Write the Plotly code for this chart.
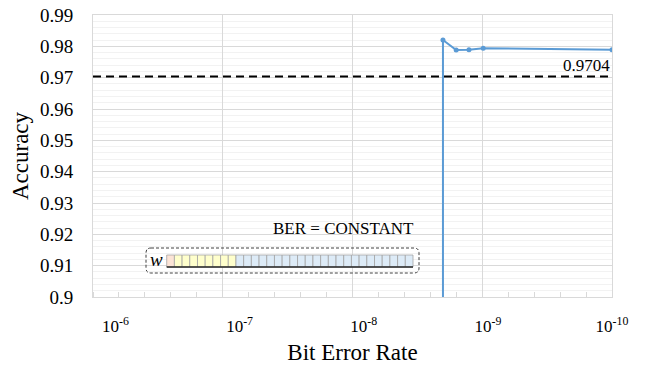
import plotly.graph_objects as go

# ---- data ----
ber = [2.3e-9, 2.3e-9, 1.8e-9, 1.42e-9, 1.09e-9, 1.0e-10]
accuracy = [0.10, 0.982, 0.9788, 0.9789, 0.9794, 0.9789]
baseline = 0.9704
x_tick_vals = [1e-6, 1e-7, 1e-8, 1e-9, 1e-10]
x_tick_text = ["10<sup>-6</sup>", "10<sup>-7</sup>", "10<sup>-8</sup>", "10<sup>-9</sup>", "10<sup>-10</sup>"]
y_tick_vals = [0.90, 0.91, 0.92, 0.93, 0.94, 0.95, 0.96, 0.97, 0.98, 0.99]
y_tick_text = [f"{v:g}" for v in y_tick_vals]
bit_fields = ["sign"] * 1 + ["exp"] * 8 + ["man"] * 23

FONT = "Liberation Serif, Times New Roman, serif"
W, H = 649, 369
L, R, T, B = 93, 612, 15, 297  # plot area in px

fig = go.Figure()
fig.add_trace(go.Scatter(
    x=ber, y=accuracy, mode="lines+markers",
    line=dict(color="#5b9bd5", width=2),
    marker=dict(color="#5b9bd5", size=5),
    showlegend=False, hoverinfo="skip",
))
# empty trace to carry the gridline axis
fig.add_trace(go.Scatter(x=[], y=[], xaxis="x2", showlegend=False))

fig.update_layout(
    width=W, height=H,
    margin=dict(l=L, r=W - R, t=T, b=H - B, autoexpand=False),
    paper_bgcolor="white", plot_bgcolor="white",
    font=dict(family=FONT, color="black"),
    xaxis=dict(
        type="log", range=[-5.819, -10.0], automargin=False,
        tickmode="array", tickvals=x_tick_vals, ticktext=x_tick_text,
        showgrid=False, zeroline=False, ticks="",
        tickfont=dict(size=17, family=FONT, color="black"),
        ticklabelstandoff=14,
        showline=True, linecolor="#d9d9d9", linewidth=1, mirror=True,
        title=dict(text="Bit Error Rate", font=dict(size=23, family=FONT, color="black"), standoff=8),
    ),
    xaxis2=dict(
        overlaying="x", range=[0, 4], tickmode="array", tickvals=[0, 1, 2, 3, 4], automargin=False,
        showgrid=True, gridcolor="#d9d9d9", gridwidth=1,
        showticklabels=False, ticks="", zeroline=False,
        minor=dict(dtick=0.2, ticks="inside", ticklen=5, tickcolor="#d9d9d9", showgrid=False),
        side="bottom",
    ),
    yaxis=dict(
        range=[0.9, 0.99], tickmode="array", tickvals=y_tick_vals, ticktext=y_tick_text, automargin=False,
        showgrid=True, gridcolor="#d9d9d9", gridwidth=1, zeroline=False, ticks="",
        minor=dict(dtick=0.002, showgrid=True, gridcolor="#f2f2f2", gridwidth=1),
        tickfont=dict(size=19, family=FONT, color="black"),
        ticklabelstandoff=15,
        showline=True, linecolor="#d9d9d9", linewidth=1, mirror=True,
        title=dict(text="Accuracy", font=dict(size=23, family=FONT, color="black"), standoff=4),
    ),
)

# baseline
fig.add_shape(type="line", xref="paper", yref="y", x0=0, x1=1, y0=baseline, y1=baseline,
              line=dict(color="black", width=2, dash="8px,5px"))
fig.add_annotation(xref="paper", yref="y", x=1, y=baseline, text=f"{baseline:.4f}",
                   xanchor="right", yanchor="bottom", showarrow=False,
                   font=dict(size=17, family=FONT, color="black"), yshift=-1)

# ---- inset (float32 bit layout) ----
def px(x):
    return (x - L) / (R - L)

def py(y):
    return (B - y) / (B - T)

bx0, bx1, by0, by1, rr = 146, 419, 248, 273, 5
path = (f"M {px(bx0+rr)},{py(by0)} L {px(bx1-rr)},{py(by0)} Q {px(bx1)},{py(by0)} {px(bx1)},{py(by0+rr)} "
        f"L {px(bx1)},{py(by1-rr)} Q {px(bx1)},{py(by1)} {px(bx1-rr)},{py(by1)} "
        f"L {px(bx0+rr)},{py(by1)} Q {px(bx0)},{py(by1)} {px(bx0)},{py(by1-rr)} "
        f"L {px(bx0)},{py(by0+rr)} Q {px(bx0)},{py(by0)} {px(bx0+rr)},{py(by0)} Z")
fig.add_shape(type="path", xref="paper", yref="paper", path=path,
              line=dict(color="#404040", width=1, dash="3px,2px"), fillcolor="rgba(255,255,255,0)")

colors = {"sign": "#fce4d6", "exp": "#ffffcc", "man": "#ddebf7"}
cx0, cx1, cy0, cy1 = 166.7, 413, 255, 267
cw = (cx1 - cx0) / len(bit_fields)
for i, f in enumerate(bit_fields):
    fig.add_shape(type="rect", xref="paper", yref="paper",
                  x0=px(cx0 + i * cw), x1=px(cx0 + (i + 1) * cw), y0=py(cy1), y1=py(cy0),
                  fillcolor=colors[f], line=dict(color="#a0a0a0", width=0.75))
fig.add_shape(type="line", xref="paper", yref="paper", x0=px(cx0), x1=px(cx1), y0=py(cy1), y1=py(cy1),
              line=dict(color="#262626", width=1.5))
fig.add_annotation(xref="paper", yref="paper", x=px(156), y=py(259), text="w",
                   xanchor="center", yanchor="middle", showarrow=False,
                   font=dict(size=19, family=FONT, color="black", style="italic"))
fig.add_annotation(xref="paper", yref="paper", x=px(416), y=py(240), text="BER = CONSTANT",
                   xanchor="right", showarrow=False, font=dict(size=17, family=FONT, color="black"))

fig.write_html("out.html")
